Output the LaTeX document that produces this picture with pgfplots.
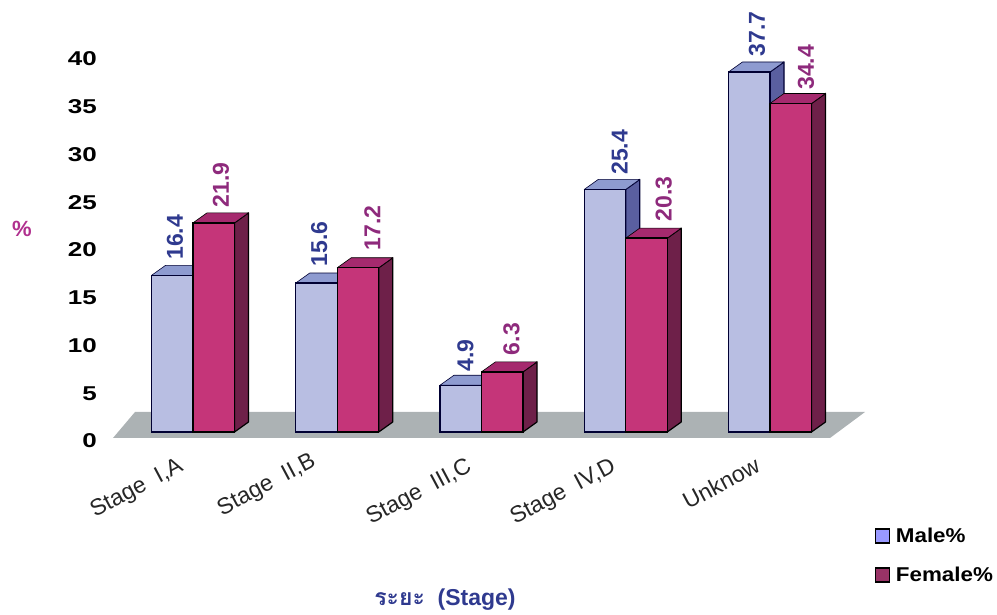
\documentclass[border=0pt]{standalone}
\usepackage{pgfplots}
\pgfplotsset{compat=1.18}
\usepackage{fontspec}
\setmainfont{Liberation Sans}
\newfontfamily\thaifont[Script=Thai]{Loma}
\newfontfamily\widefont[FakeStretch=1.3,BoldFeatures={FakeStretch=1.3}]{Liberation Sans}
\newfontfamily\legfont[FakeStretch=1.12,BoldFeatures={FakeStretch=1.12}]{Liberation Sans}
\definecolor{mfront}{HTML}{B8BEE2}
\definecolor{mtop}{HTML}{8E9BD0}
\definecolor{mside}{HTML}{5A5FA0}
\definecolor{ffront}{HTML}{C53579}
\definecolor{ftop}{HTML}{A52A6E}
\definecolor{fside}{HTML}{6E2049}
\definecolor{lblue}{HTML}{2F3A8F}
\definecolor{lmag}{HTML}{8E2A7C}
\definecolor{pct}{HTML}{B0308E}
\definecolor{floorc}{HTML}{ACB2B4}
\definecolor{legm}{HTML}{9999FF}
\definecolor{legf}{HTML}{993366}
\newcommand\barwd{0.2877}
\newcommand\dpx{0.0971}
\newcommand\dpy{1.047}
% side and top faces of one bar: #1 right edge x, #2 value, #3 side colour, #4 top colour, #5 outline
\newcommand\faces[5]{%
  \pgfmathsetmacro\xa{#1-\barwd}%
  \pgfmathsetmacro\xb{#1+\dpx}%
  \pgfmathsetmacro\xc{#1-\barwd+\dpx}%
  \pgfmathsetmacro\yt{#2+\dpy}%
  \edef\temp{\noexpand\addplot[forget plot,fill=#3,draw=#5,line width=1.2pt,line join=round] coordinates {(#1,0) (\xb,\dpy) (\xb,\yt) (#1,#2)} --cycle;
  \noexpand\addplot[forget plot,fill=#4,draw=#5,line width=0.6pt,line join=round] coordinates {(\xa,#2) (\xc,\yt) (\xb,\yt) (#1,#2)} --cycle;}%
  \temp}
\pgfplotsset{vallabel/.style={
  nodes near coords,point meta=y,
  visualization depends on=\thisrow{dx}\as\ldx,
  visualization depends on=\thisrow{dy}\as\ldy,
  nodes near coords style={/pgf/number format/fixed,/pgf/number format/fixed zerofill,/pgf/number format/precision=1,/pgf/number format/assume math mode=true,font=\bfseries\fontsize{23}{23}\selectfont,color=#1,xshift=\ldx pt,yshift=\ldy pt,rotate=90,anchor=west,inner sep=0pt}}}
\begin{document}
\begin{tikzpicture}[x=1pt,y=1pt]
\useasboundingbox (0,0) rectangle (997,615);
\begin{axis}[
  at={(113pt,173.45pt)},anchor=south west,
  scale only axis,width=752pt,height=410.65pt,
  xmin=-0.5546,xmax=4.6586,ymin=-1,ymax=42,
  clip=false,
  axis line style={draw=none},
  tick style={draw=none},
  xtick={0,1,2,3,4},
  xticklabels={{Stage~~I,A},{\raisebox{10pt}[16.5pt][0pt]{Stage~~II,B\hspace{8pt}}},{Stage~~III,C\hspace{6pt}},{Stage~~IV,D},{Unknow}},
  xticklabel style={font=\fontsize{23}{23}\selectfont,rotate=28,anchor=north east,inner sep=0pt,xshift=-21pt,yshift=-5pt,color=black!85},
  ytick={0,5,...,40},
  yticklabel style={font=\widefont\bfseries\fontsize{20}{20}\selectfont,anchor=east,inner sep=0pt,xshift=-16pt,yshift=-9pt},
  /pgf/number format/assume math mode=true,
  ylabel={\%},
  ylabel style={at={(axis description cs:-0.121,0.5176)},rotate=-90,anchor=center,font=\bfseries\fontsize{22}{22}\selectfont,color=pct},
  xlabel={{\thaifont\bfseries ระยะ}~~(Stage)},
  xlabel style={at={(axis description cs:0.4415,-0.386)},anchor=center,font=\bfseries\fontsize{23}{23}\selectfont,color=lblue},
  legend style={at={(axis description cs:1.0125,-0.205)},anchor=north west,draw=none,fill=none,font=\legfont\bfseries\fontsize{20}{20}\selectfont,row sep=19pt,inner sep=0pt},
  legend cell align=left,
  legend image code/.code={\draw[#1] (0pt,-7pt) rectangle (14pt,7pt);\path (18pt,0pt);},
]
% floor
\addplot[forget plot,fill=floorc,draw=none] coordinates {(-0.5546,-0.628) (4.4160,-0.628) (4.6586,2.094) (-0.4021,2.094)} --cycle;
% Male side and top
\faces{0}{16.4}{mside}{mtop}{black!80!blue}
\faces{1}{15.6}{mside}{mtop}{black!80!blue}
\faces{2}{4.9}{mside}{mtop}{black!80!blue}
\faces{3}{25.4}{mside}{mtop}{black!80!blue}
\faces{4}{37.7}{mside}{mtop}{black!80!blue}
\addplot[forget plot,ybar,bar width=41.5pt,bar shift=-20.75pt,fill=mfront,draw=black!80!blue,line width=1.4pt,vallabel=lblue]
  table[x=x,y=y] {
x y dx dy
0 16.4 -18 15
1 15.6 -18 16
2 4.9 -16 13
3 25.4 -6 14
4 37.7 -13 15
};
% Female side and top
\faces{0.2877}{21.9}{fside}{ftop}{black}
\faces{1.2877}{17.2}{fside}{ftop}{black}
\faces{2.2877}{6.3}{fside}{ftop}{black}
\faces{3.2877}{20.3}{fside}{ftop}{black}
\faces{4.2877}{34.4}{fside}{ftop}{black}
\addplot[forget plot,ybar,bar width=41.5pt,bar shift=20.75pt,fill=ffront,draw=black,line width=1.4pt,vallabel=lmag]
  table[x=x,y=y] {
x y dx dy
0 21.9 28 15
1 17.2 35 17
2 6.3 30 16
3 20.3 38 16
4 34.4 36 13
};
\addlegendimage{fill=legm,draw=black,line width=1.3pt}
\addlegendentry{Male\%}
\addlegendimage{fill=legf,draw=black,line width=1.3pt}
\addlegendentry{Female\%}
\end{axis}
\end{tikzpicture}
\end{document}
